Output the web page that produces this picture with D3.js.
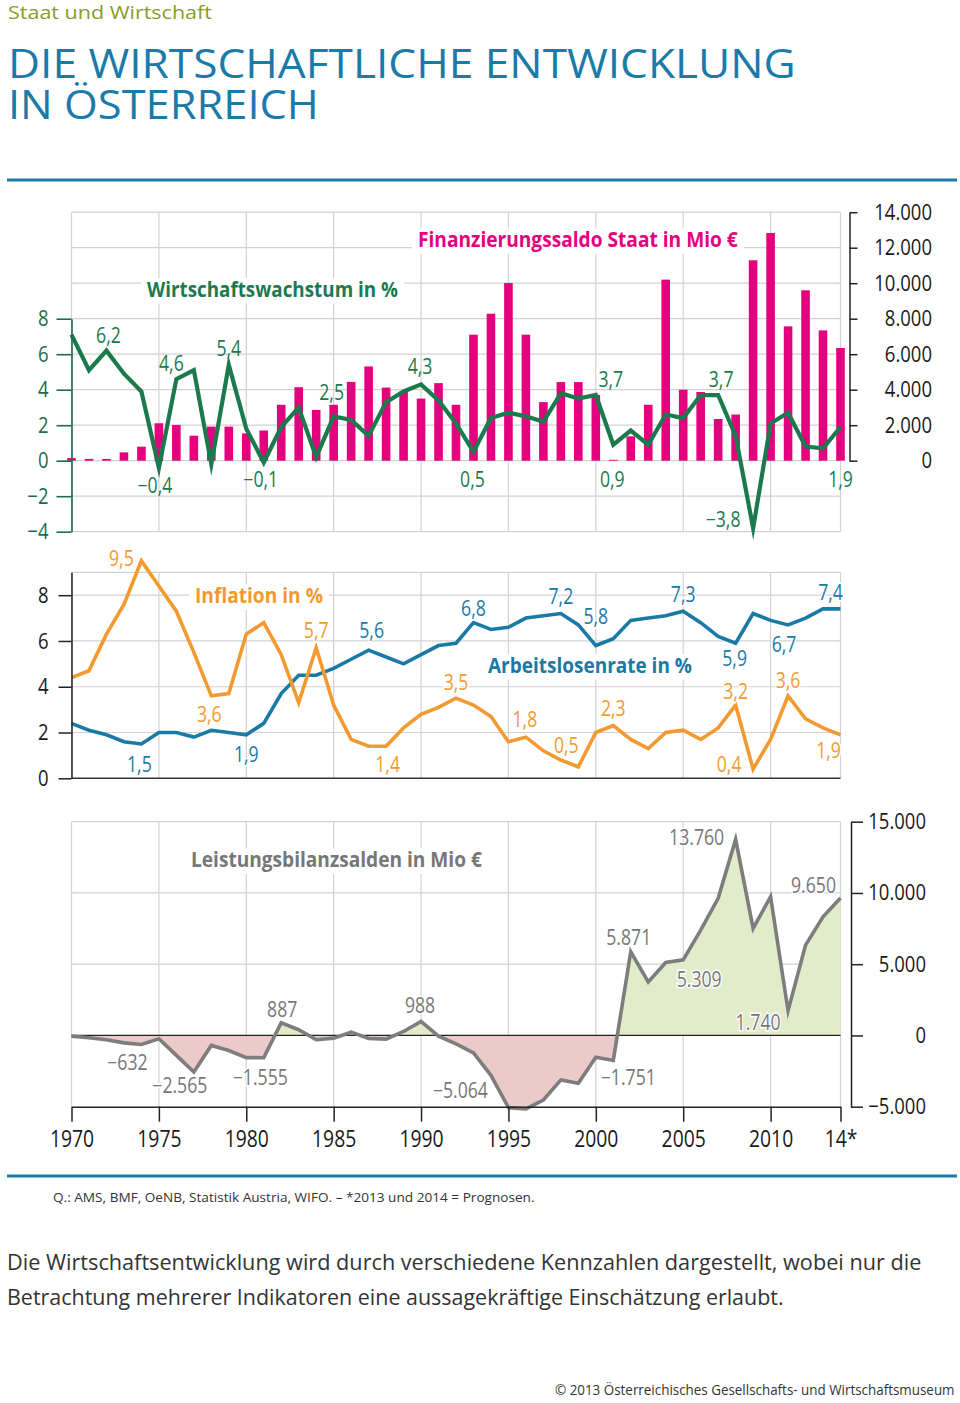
<!DOCTYPE html>
<html><head><meta charset="utf-8">
<script src="https://cdn.jsdelivr.net/npm/d3@7"></script>
<style>body{margin:0;background:#fff}svg{display:block}</style>
</head><body>
<svg id="c" width="960" height="1403"></svg>
<script>
// ---------- DATA ----------
const years = d3.range(1970, 2015);
const growth = [7.1,5.1,6.2,4.9,3.9,-0.4,4.6,5.1,-0.2,5.4, 1.8,-0.1,1.9,3.0,0.2,2.5,2.3,1.4,3.3,3.9, 4.3,3.4,2.1,0.5,2.4,2.7,2.5,2.2,3.8,3.5, 3.7,0.9,1.7,0.9,2.6,2.4,3.7,3.7,1.4,-3.8, 2.1,2.7,0.8,0.7,1.9];
const deficit = [150,100,100,470,790,2110,2015,1410,1920,1920, 1540,1700,3150,4140,2860,3150,4440,5310,4120,3900, 3500,4370,3150,7100,8280,10010,7100,3300,4430,4430, 3700,50,1370,3150,10200,4000,3870,2350,2600,11290, 12830,7570,9600,7340,6350];
const inflation = [4.4,4.7,6.3,7.6,9.5,8.4,7.3,5.5,3.6,3.7, 6.3,6.8,5.4,3.3,5.7,3.2,1.7,1.4,1.4,2.2, 2.8,3.1,3.5,3.2,2.7,1.6,1.8,1.2,0.8,0.5, 2.0,2.3,1.7,1.3,2.0,2.1,1.7,2.2,3.2,0.4, 1.7,3.6,2.6,2.2,1.9];
const unemployment = [2.4,2.1,1.9,1.6,1.5,2.0,2.0,1.8,2.1,2.0, 1.9,2.4,3.7,4.5,4.5,4.8,5.2,5.6,5.3,5.0, 5.4,5.8,5.9,6.8,6.5,6.6,7.0,7.1,7.2,6.7, 5.8,6.1,6.9,7.0,7.1,7.3,6.8,6.2,5.9,7.2, 6.9,6.7,7.0,7.4,7.4];
const currentAccount = [-50,-160,-300,-520,-632,-230,-1400,-2565,-700,-1060, -1555,-1560,887,400,-300,-190,230,-210,-260,280, 988,-50,-590,-1220,-2800,-5064,-5150,-4530,-3120,-3360, -1530,-1751,5871,3760,5120,5309,7390,9620,13760,7510, 9740,1740,6340,8330,9650];

const growthLabelYears = [1972,1975,1976,1979,1981,1985,1990,1993,2000,2001,2007,2009,2014];
const inflationLabelYears = [1974,1978,1984,1987,1992,1996,1999,2001,2008,2009,2011,2014];
const unemploymentLabelYears = [1974,1980,1987,1993,1998,2000,2005,2008,2011,2014];
const caLabelYears = [1974,1977,1980,1982,1990,1995,2001,2002,2005,2008,2011,2014];

const xTickLabels = ["1970","1975","1980","1985","1990","1995","2000","2005","2010","14*"];
const xTickYears = [1970,1975,1980,1985,1990,1995,2000,2005,2010,2014];

const topLeftTicks = [-4,-2,0,2,4,6,8];
const topRightTicks = [0,2000,4000,6000,8000,10000,12000,14000];
const midLeftTicks = [0,2,4,6,8];
const botRightTicks = [-5000,0,5000,10000,15000];

const texts = {
  kicker: "Staat und Wirtschaft",
  title1: "DIE WIRTSCHAFTLICHE ENTWICKLUNG",
  title2: "IN ÖSTERREICH",
  growth: "Wirtschaftswachstum in %",
  deficit: "Finanzierungssaldo Staat in Mio €",
  inflation: "Inflation in %",
  unemployment: "Arbeitslosenrate in %",
  ca: "Leistungsbilanzsalden in Mio €",
  source: "Q.: AMS, BMF, OeNB, Statistik Austria, WIFO. – *2013 und 2014 = Prognosen.",
  desc1: "Die Wirtschaftsentwicklung wird durch verschiedene Kennzahlen dargestellt, wobei nur die",
  desc2: "Betrachtung mehrerer Indikatoren eine aussagekräftige Einschätzung erlaubt.",
  copy: "© 2013 Österreichisches Gesellschafts- und Wirtschaftsmuseum"
};

// ---------- STYLE / LAYOUT ----------
const NARROW = "'Open Sans','Noto Sans',sans-serif";
const HUMAN = "'Open Sans','Noto Sans',sans-serif";
const SQUEEZE = 0.84;
const C = {green:"#1a7a4e", greenAxis:"#1e6b49", pink:"#e5007e", orange:"#f29a30", blue:"#1a7aa6",
  gray:"#7d7d7d", grayText:"#777", grid:"#d2d2d2", rule:"#1a7aaa", kicker:"#8a9a2a",
  negFill:"#eccaca", posFill:"#e2ecca", axis:"#222"};
const loc = d3.formatLocale({decimal:",", thousands:".", grouping:[3], currency:["","€"], minus:"−"});
const fmtInt = loc.format(",");
const fmtDec = loc.format(".1f");

const svg = d3.select("#c");
svg.append("rect").attr("width",960).attr("height",1403).attr("fill","#fff");

function squeeze(sel, f){
  sel.each(function(){
    const L = this.getComputedTextLength();
    d3.select(this).attr("textLength", L*f).attr("lengthAdjust","spacingAndGlyphs");
  });
}
// text fitted to a width by scaling its group horizontally
function fitText(txt, x0, yb, width, size, color, weight){
  const g = svg.append("g");
  const t = g.append("text").attr("x",0).attr("y",0).attr("font-family",HUMAN).attr("font-size",size)
    .attr("font-weight",weight||"normal").attr("fill",color).text(txt);
  const L = t.node().getComputedTextLength();
  g.attr("transform",`translate(${x0},${yb}) scale(${width/L},1)`);
  return g;
}

const x = d3.scaleLinear().domain([1970,2014]).range([71.5,840.5]);
const yTop = d3.scaleLinear().domain([-4,14]).range([531.7,212.2]);
const yBar = d3.scaleLinear().domain([-4000,14000]).range([531.7,212.2]);
const yMid = d3.scaleLinear().domain([0,9]).range([778.3,572.3]);
const yBot = d3.scaleLinear().domain([-5000,15000]).range([1106.7,821.7]);
const gridYears = [1970,1975,1980,1985,1990,1995,2000,2005,2010,2014];

// ---------- HEADER ----------
fitText(texts.kicker, 8, 19, 204, 18.5, C.kicker);
fitText(texts.title1, 8, 78, 788, 40, C.rule);
fitText(texts.title2, 8, 119, 311, 40, C.rule);
svg.append("rect").attr("x",7).attr("y",178.5).attr("width",950).attr("height",3).attr("fill",C.rule);

// ---------- GRID ----------
const grid = svg.append("g").attr("stroke",C.grid).attr("stroke-width",1.2);
d3.range(-4,15,2).forEach(v=>grid.append("line").attr("x1",x(1970)).attr("x2",x(2014)).attr("y1",yTop(v)).attr("y2",yTop(v)));
gridYears.forEach(yr=>grid.append("line").attr("x1",x(yr)).attr("x2",x(yr)).attr("y1",yTop(14)).attr("y2",yTop(-4)));
[2,4,6,8,9].forEach(v=>grid.append("line").attr("x1",x(1970)).attr("x2",x(2014)).attr("y1",yMid(v)).attr("y2",yMid(v)));
gridYears.forEach(yr=>grid.append("line").attr("x1",x(yr)).attr("x2",x(yr)).attr("y1",yMid(9)).attr("y2",yMid(0)));
[5000,10000,15000].forEach(v=>grid.append("line").attr("x1",x(1970)).attr("x2",x(2014)).attr("y1",yBot(v)).attr("y2",yBot(v)));
gridYears.forEach(yr=>grid.append("line").attr("x1",x(yr)).attr("x2",x(yr)).attr("y1",yBot(15000)).attr("y2",yBot(-5000)));

// ---------- TITLES WITH WHITE BACKGROUND ----------
function title(txt, x0, yb, w, color, size){
  svg.append("rect").attr("fill","#fff").attr("x",x0-6).attr("y",yb-size*0.85).attr("width",w+12).attr("height",size*1.15);
  fitText(txt, x0, yb, w, size, color, "bold");
}
title(texts.growth,147,297,251,C.green,22);
title(texts.deficit,418,247,320,C.pink,22);
title(texts.inflation,195,603,128,C.orange,22);
title(texts.unemployment,488,673,204,C.blue,22);
title(texts.ca,191,867,291,C.grayText,22);

// ---------- TOP PANEL ----------
const bw = 8.6;
svg.append("g").selectAll("rect").data(years).join("rect")
  .attr("x",d=>x(d)-bw/2).attr("width",bw)
  .attr("y",(d,i)=>yBar(deficit[i])).attr("height",(d,i)=>yBar(0)-yBar(deficit[i]))
  .attr("fill",C.pink);
const lineTop = d3.line().x((d,i)=>x(years[i])).y(d=>yTop(d));
svg.append("path").attr("d",lineTop(growth)).attr("fill","none").attr("stroke",C.green)
  .attr("stroke-width",4.2).attr("stroke-linejoin","miter").attr("stroke-miterlimit",6);

const yTopAxisScale = d3.scaleLinear().domain([-4,8]).range([yTop(-4),yTop(8)]);
const gTL = svg.append("g").attr("transform",`translate(${x(1970)},0)`);
gTL.call(d3.axisLeft(yTopAxisScale).tickValues(d3.range(-3,9,2)).tickSize(10).tickSizeOuter(0).tickFormat(""));
gTL.call(d3.axisLeft(yTopAxisScale).tickValues(topLeftTicks).tickSize(15).tickSizeOuter(0).tickPadding(8).tickFormat(d=>fmtInt(d)));
gTL.selectAll("path,line").attr("stroke",C.greenAxis).attr("stroke-width",1.6);
gTL.selectAll("text").attr("font-family",NARROW).attr("font-size",22).attr("fill",C.greenAxis);
squeeze(gTL.selectAll("text"), SQUEEZE);

const yBarAxisScale = d3.scaleLinear().domain([0,14000]).range([yBar(0),yBar(14000)]);
const gTR = svg.append("g").attr("transform","translate(849.5,0)");
gTR.call(d3.axisRight(yBarAxisScale).tickValues(topRightTicks).tickSize(8).tickSizeOuter(0).tickFormat(d=>fmtInt(d)));
gTR.selectAll("path,line").attr("stroke",C.axis).attr("stroke-width",1.5);
gTR.selectAll("text").attr("font-family",NARROW).attr("font-size",22).attr("fill","#1a1a1a")
  .attr("text-anchor","end").attr("x",82.5);
squeeze(gTR.selectAll("text"), SQUEEZE);

// ---------- MIDDLE PANEL ----------
const lineMid = d3.line().x((d,i)=>x(years[i])).y(d=>yMid(d));
svg.append("path").attr("d",lineMid(unemployment)).attr("fill","none").attr("stroke",C.blue)
  .attr("stroke-width",3.6).attr("stroke-linejoin","miter").attr("stroke-miterlimit",6);
svg.append("path").attr("d",lineMid(inflation)).attr("fill","none").attr("stroke",C.orange)
  .attr("stroke-width",3.6).attr("stroke-linejoin","miter").attr("stroke-miterlimit",6);
svg.append("line").attr("x1",x(1970)).attr("x2",x(2014)).attr("y1",yMid(0)).attr("y2",yMid(0))
  .attr("stroke","#333").attr("stroke-width",1.5);
const gML = svg.append("g").attr("transform",`translate(${x(1970)},0)`);
gML.call(d3.axisLeft(yMid).tickValues(d3.range(1,10,2)).tickSize(8).tickSizeOuter(0).tickFormat(""));
gML.call(d3.axisLeft(yMid).tickValues(midLeftTicks).tickSize(13).tickSizeOuter(0).tickPadding(10).tickFormat(d=>fmtInt(d)));
gML.selectAll("path,line").attr("stroke",C.axis).attr("stroke-width",1.5);
gML.selectAll("text").attr("font-family",NARROW).attr("font-size",22).attr("fill","#1a1a1a");
squeeze(gML.selectAll("text"), SQUEEZE);

// ---------- BOTTOM PANEL ----------
const zero = yBot(0);
const defs = svg.append("defs");
defs.append("clipPath").attr("id","pos").append("rect").attr("x",0).attr("y",0).attr("width",960).attr("height",zero);
defs.append("clipPath").attr("id","neg").append("rect").attr("x",0).attr("y",zero).attr("width",960).attr("height",400);
const area = d3.area().x((d,i)=>x(years[i])).y0(zero).y1(d=>yBot(d));
svg.append("path").attr("d",area(currentAccount)).attr("fill",C.posFill).attr("clip-path","url(#pos)");
svg.append("path").attr("d",area(currentAccount)).attr("fill",C.negFill).attr("clip-path","url(#neg)");
svg.append("line").attr("x1",x(1970)).attr("x2",x(2014)).attr("y1",zero).attr("y2",zero)
  .attr("stroke","#222").attr("stroke-width",1.3);
const lineBot = d3.line().x((d,i)=>x(years[i])).y(d=>yBot(d));
svg.append("path").attr("d",lineBot(currentAccount)).attr("fill","none").attr("stroke",C.gray)
  .attr("stroke-width",3.6).attr("stroke-linejoin","miter").attr("stroke-miterlimit",6);

const gX = svg.append("g").attr("transform",`translate(0,${yBot(-5000)})`);
gX.call(d3.axisBottom(x).tickValues(years).tickSize(7).tickSizeOuter(0).tickFormat(""));
gX.call(d3.axisBottom(x).tickValues(xTickYears).tickSize(15).tickSizeOuter(0).tickPadding(9)
  .tickFormat((d,i)=>xTickLabels[i]));
gX.selectAll("path,line").attr("stroke",C.axis).attr("stroke-width",1.5);
gX.selectAll("text").attr("font-family",NARROW).attr("font-size",23).attr("fill","#1a1a1a");
squeeze(gX.selectAll("text"), SQUEEZE);

const gBR = svg.append("g").attr("transform","translate(851,0)");
gBR.call(d3.axisRight(yBot).tickValues(d3.range(-5000,15001,1000)).tickSize(9).tickSizeOuter(0).tickFormat(""));
gBR.call(d3.axisRight(yBot).tickValues(botRightTicks).tickSize(12).tickSizeOuter(0).tickFormat(d=>fmtInt(d)));
gBR.selectAll("path,line").attr("stroke",C.axis).attr("stroke-width",1.5);
gBR.selectAll("text").attr("font-family",NARROW).attr("font-size",22).attr("fill","#1a1a1a")
  .attr("text-anchor","end").attr("x",75);
squeeze(gBR.selectAll("text"), SQUEEZE);

// ---------- VALUE LABELS ----------
const offsets = {
  growth: [[2,-8],[-4,25],[-5,-8],[0,-9],[-3,25],[-2,-16],[-1,-10],[-1,35],[15,-8],[-1,42],[3,-8],[-30,-1],[0,60]],
  inflation: [[-20,5],[-2,26],[0,-10],[19,26],[0,-8],[-1,-10],[-12,-14],[0,-10],[0,-6],[-24,3],[0,-8],[-12,23]],
  unemployment: [[-2,28],[0,27],[3,-12],[0,-7],[0,-10],[0,-22],[0,-9],[-1,23],[-4,27],[-10,-9]],
  ca: [[-14,25.5],[-14,21],[14,27],[1,-6],[-1,-8],[-48,-10],[15,25],[-2,-7],[16,27],[-39,6],[-30,19],[-27,-5]]
};
function labels(yrs, vals, yScale, off, color, fmt, halo){
  const t = svg.append("g").selectAll("text").data(yrs).join("text")
    .attr("x",(d,i)=>x(d)+off[i][0]).attr("y",(d,i)=>yScale(vals[years.indexOf(d)])+off[i][1])
    .attr("text-anchor","middle").attr("font-family",NARROW).attr("font-size",21).attr("font-weight",500)
    .attr("fill",color)
    .attr("stroke",halo?"#fff":"none").attr("stroke-width",3).attr("paint-order","stroke")
    .text(d=>fmt(vals[years.indexOf(d)]));
  squeeze(t, SQUEEZE);
}
labels(growthLabelYears, growth, yTop, offsets.growth, C.green, fmtDec, false);
labels(inflationLabelYears, inflation, yMid, offsets.inflation, C.orange, fmtDec, true);
labels(unemploymentLabelYears, unemployment, yMid, offsets.unemployment, C.blue, fmtDec, true);
labels(caLabelYears, currentAccount, yBot, offsets.ca, C.grayText, fmtInt, true);

// ---------- FOOTER ----------
svg.append("rect").attr("x",7).attr("y",1174.5).attr("width",950).attr("height",3).attr("fill",C.rule);
fitText(texts.source, 53, 1202, 482, 13.5, "#333");
fitText(texts.desc1, 7, 1270, 915, 21.5, "#333");
fitText(texts.desc2, 7, 1305, 777, 21.5, "#333");
fitText(texts.copy, 555, 1395, 400, 14.5, "#333");
</script>
</body></html>
